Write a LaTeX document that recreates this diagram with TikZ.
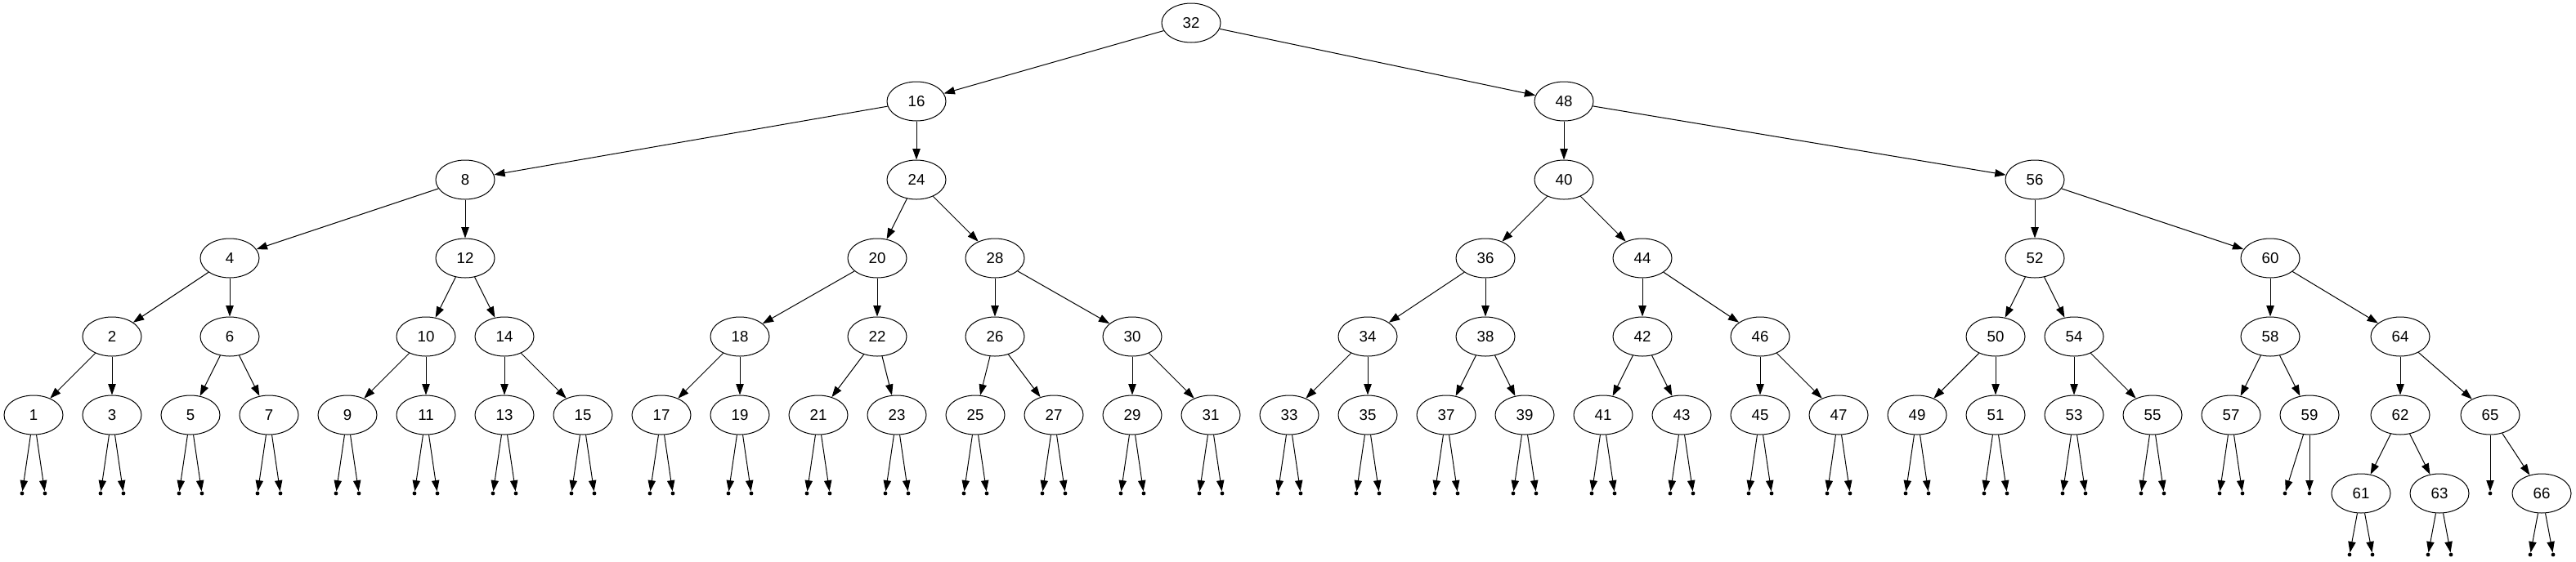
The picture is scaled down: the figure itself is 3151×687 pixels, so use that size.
\documentclass[tikz,border=0pt]{standalone}
\usepackage{fontspec}
\setmainfont{Liberation Sans}
\usetikzlibrary{shapes.geometric,arrows.meta}
\tikzset{
  tn/.style={draw, ellipse, line width=0.75pt, minimum width=54pt, minimum height=36pt, inner sep=0pt,
    font=\fontsize{14pt}{16pt}\selectfont},
  nul/.style={circle, fill=black, inner sep=0pt, minimum size=3.6pt},
  edge/.style={line width=0.75pt, -{Triangle[length=10pt,width=7pt]}}
}
\begin{document}
\begin{tikzpicture}[x=0.75pt,y=-0.75pt]
\useasboundingbox (0,0) rectangle (3151,687);
% internal nodes
\foreach \v/\x/\y in {32/1457/28,
  16/1121/124, 48/1913/124,
  8/569/220, 24/1121/220, 40/1913/220, 56/2489/220,
  4/281/316, 12/569/316, 20/1073/316, 28/1217/316, 36/1817/316, 44/2009/316, 52/2489/316, 60/2777/316,
  2/137/412, 6/281/412, 10/521/412, 14/617/412, 18/905/412, 22/1073/412, 26/1217/412, 30/1385/412,
  34/1673/412, 38/1817/412, 42/2009/412, 46/2153/412, 50/2441/412, 54/2537/412, 58/2777/412, 64/2936/412,
  62/2936/508, 65/3046/508}
  {\node[tn] (n\v) at (\x,\y) {\v};}
% leaves with two null children (row 5)
\foreach \v/\x in {1/41,3/137,5/233,7/329,9/425,11/521,13/617,15/713,17/809,19/905,21/1001,23/1097,
  25/1193,27/1289,29/1385,31/1481,33/1577,35/1673,37/1769,39/1865,41/1961,43/2057,45/2153,47/2249,
  49/2345,51/2441,53/2537,55/2633,57/2729}
  {\node[tn] (n\v) at (\x,508) {\v};
   \node[nul] (z\v a) at (\x-14,604) {};
   \node[nul] (z\v b) at (\x+14,604) {};
   \draw[edge] (n\v) -- (z\v a);
   \draw[edge] (n\v) -- (z\v b);}
% leaves with two null children (row 6)
\foreach \v/\x in {61/2888,63/2984,66/3109}
  {\node[tn] (n\v) at (\x,604) {\v};
   \node[nul] (z\v a) at (\x-14,679) {};
   \node[nul] (z\v b) at (\x+14,679) {};
   \draw[edge] (n\v) -- (z\v a);
   \draw[edge] (n\v) -- (z\v b);}
% special leaves
\node[tn] (n59) at (2825,508) {59};
\node[nul] (z59a) at (2795,604) {};
\node[nul] (z59b) at (2825,604) {};
\draw[edge] (n59) -- (z59a);
\draw[edge] (n59) -- (z59b);
\node[nul] (z65a) at (3046,604) {};
\draw[edge] (n65) -- (z65a);
% tree edges
\foreach \p/\c in {32/16, 32/48, 16/8, 16/24, 48/40, 48/56, 8/4, 8/12, 24/20, 24/28, 40/36, 40/44,
  56/52, 56/60, 4/2, 4/6, 12/10, 12/14, 20/18, 20/22, 28/26, 28/30, 36/34, 36/38, 44/42, 44/46,
  52/50, 52/54, 60/58, 60/64, 2/1, 2/3, 6/5, 6/7, 10/9, 10/11, 14/13, 14/15, 18/17, 18/19,
  22/21, 22/23, 26/25, 26/27, 30/29, 30/31, 34/33, 34/35, 38/37, 38/39, 42/41, 42/43, 46/45, 46/47,
  50/49, 50/51, 54/53, 54/55, 58/57, 58/59, 64/62, 64/65, 62/61, 62/63, 65/66}
  {\draw[edge] (n\p) -- (n\c);}
\end{tikzpicture}
\end{document}
